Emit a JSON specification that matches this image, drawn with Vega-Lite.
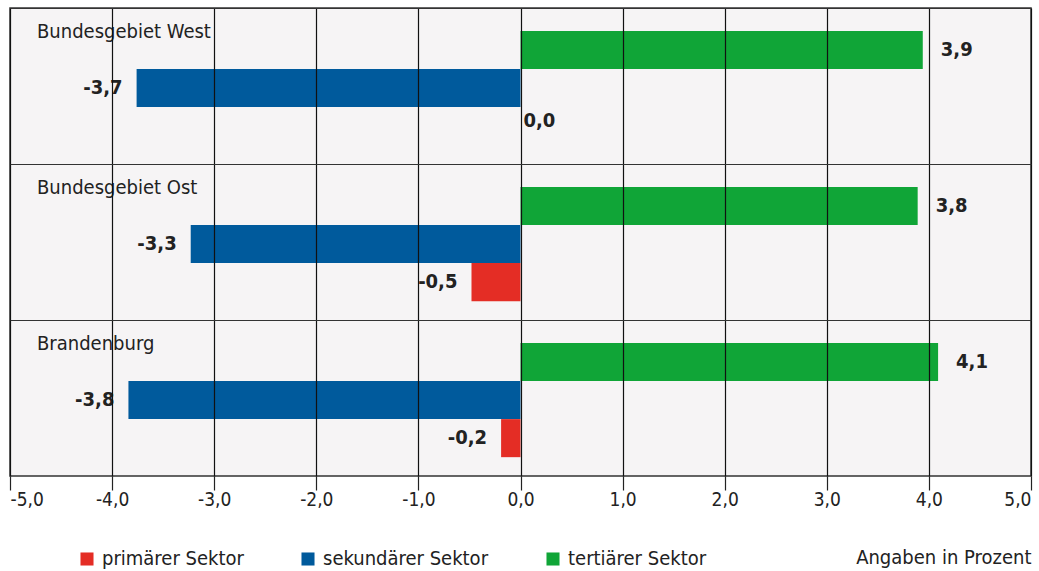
{
  "$schema": "https://vega.github.io/schema/vega-lite/v6.json",
  "width": 1021,
  "height": 468,
  "autosize": {"type": "none"},
  "padding": {"left": 10, "top": 8, "right": 8, "bottom": 95},
  "background": "#ffffff",
  "config": {
    "font": "DejaVu Sans Condensed, Liberation Sans Narrow, sans-serif",
    "locale": {"number": {"decimal": ",", "thousands": ".", "grouping": [3], "currency": ["", " €"], "minus": "-"}},
    "view": {"stroke": "#333333", "strokeWidth": 1.5, "fill": "#f6f4f5"}
  },
  "datasets": {
    "bars": [
      {"region": "Bundesgebiet West", "sector": "tertiärer Sektor", "value": 3.94, "label": "3,9"},
      {"region": "Bundesgebiet West", "sector": "sekundärer Sektor", "value": -3.76, "label": "-3,7"},
      {"region": "Bundesgebiet West", "sector": "primärer Sektor", "value": 0.0, "label": "0,0"},
      {"region": "Bundesgebiet Ost", "sector": "tertiärer Sektor", "value": 3.89, "label": "3,8"},
      {"region": "Bundesgebiet Ost", "sector": "sekundärer Sektor", "value": -3.23, "label": "-3,3"},
      {"region": "Bundesgebiet Ost", "sector": "primärer Sektor", "value": -0.48, "label": "-0,5"},
      {"region": "Brandenburg", "sector": "tertiärer Sektor", "value": 4.09, "label": "4,1"},
      {"region": "Brandenburg", "sector": "sekundärer Sektor", "value": -3.84, "label": "-3,8"},
      {"region": "Brandenburg", "sector": "primärer Sektor", "value": -0.19, "label": "-0,2"}
    ],
    "regions": [
      {"region": "Bundesgebiet West"},
      {"region": "Bundesgebiet Ost"},
      {"region": "Brandenburg"}
    ]
  },
  "encoding": {
    "y": {
      "field": "region", "type": "nominal",
      "sort": ["Bundesgebiet West", "Bundesgebiet Ost", "Brandenburg"],
      "scale": {"paddingInner": 0, "paddingOuter": 0},
      "axis": {"grid": true, "bandPosition": 0, "labels": false, "ticks": false, "domain": false, "title": null, "gridColor": "#333333", "gridWidth": 1.2, "gridOpacity": 1, "zindex": 1}
    }
  },
  "layer": [
    {
      "data": {"name": "bars"},
      "mark": {"type": "bar"},
      "encoding": {
        "x": {
          "field": "value", "type": "quantitative",
          "scale": {"domain": [-5, 5], "nice": false},
          "axis": {
            "values": [-5, -4, -3, -2, -1, 0, 1, 2, 3, 4, 5],
            "format": ".1f",
            "grid": true, "gridColor": "#111111", "gridWidth": 1.2, "gridOpacity": 1,
            "domain": false,
            "ticks": true, "tickSize": 14, "tickColor": "#222222", "tickWidth": 1.2,
            "labelFlush": true, "labelFontSize": 19, "labelColor": "#222222", "labelPadding": 0,
            "title": "Angaben in Prozent", "titleAnchor": "end", "titleAlign": "right",
            "titleFontSize": 20, "titleFontWeight": "normal", "titleColor": "#222222", "titlePadding": 38,
            "zindex": 1
          }
        },
        "yOffset": {
          "field": "sector", "type": "nominal",
          "sort": ["tertiärer Sektor", "sekundärer Sektor", "primärer Sektor"],
          "scale": {"paddingInner": 0, "paddingOuter": 0.55, "align": 0.55}
        },
        "color": {
          "field": "sector", "type": "nominal",
          "scale": {"domain": ["primärer Sektor", "sekundärer Sektor", "tertiärer Sektor"], "range": ["#e42d25", "#005a9c", "#10a537"]},
          "legend": {
            "title": null, "orient": "none", "direction": "horizontal",
            "legendX": 67, "legendY": 541, "padding": 0,
            "symbolType": "square", "symbolSize": 170, "symbolStrokeWidth": 0, "symbolOpacity": 1,
            "labelFontSize": 20, "labelColor": "#222222", "labelLimit": 300,
            "columnPadding": 54, "labelOffset": 5
          }
        }
      }
    },
    {
      "data": {"name": "bars"},
      "transform": [{"filter": "datum.value > 0"}],
      "mark": {"type": "text", "align": "left", "baseline": "middle", "dx": 18, "fontSize": 20, "fontWeight": "bold", "color": "#222222"},
      "encoding": {
        "x": {"field": "value", "type": "quantitative"},
        "yOffset": {"field": "sector", "type": "nominal", "sort": ["tertiärer Sektor", "sekundärer Sektor", "primärer Sektor"]},
        "text": {"field": "label"}
      }
    },
    {
      "data": {"name": "bars"},
      "transform": [{"filter": "datum.value == 0"}],
      "mark": {"type": "text", "align": "left", "baseline": "middle", "dx": 3, "dy": -5, "fontSize": 20, "fontWeight": "bold", "color": "#222222"},
      "encoding": {
        "x": {"field": "value", "type": "quantitative"},
        "yOffset": {"field": "sector", "type": "nominal", "sort": ["tertiärer Sektor", "sekundärer Sektor", "primärer Sektor"]},
        "text": {"field": "label"}
      }
    },
    {
      "data": {"name": "bars"},
      "transform": [{"filter": "datum.value < 0"}],
      "mark": {"type": "text", "align": "right", "baseline": "middle", "dx": -14, "fontSize": 20, "fontWeight": "bold", "color": "#222222"},
      "encoding": {
        "x": {"field": "value", "type": "quantitative"},
        "yOffset": {"field": "sector", "type": "nominal", "sort": ["tertiärer Sektor", "sekundärer Sektor", "primärer Sektor"]},
        "text": {"field": "label"}
      }
    },
    {
      "data": {"name": "regions"},
      "mark": {"type": "text", "align": "left", "baseline": "middle", "dx": 27, "dy": 24, "fontSize": 20, "color": "#222222"},
      "encoding": {
        "x": {"datum": -5, "type": "quantitative"},
        "y": {"field": "region", "type": "nominal", "bandPosition": 0, "sort": ["Bundesgebiet West", "Bundesgebiet Ost", "Brandenburg"]},
        "text": {"field": "region"}
      }
    }
  ]
}
